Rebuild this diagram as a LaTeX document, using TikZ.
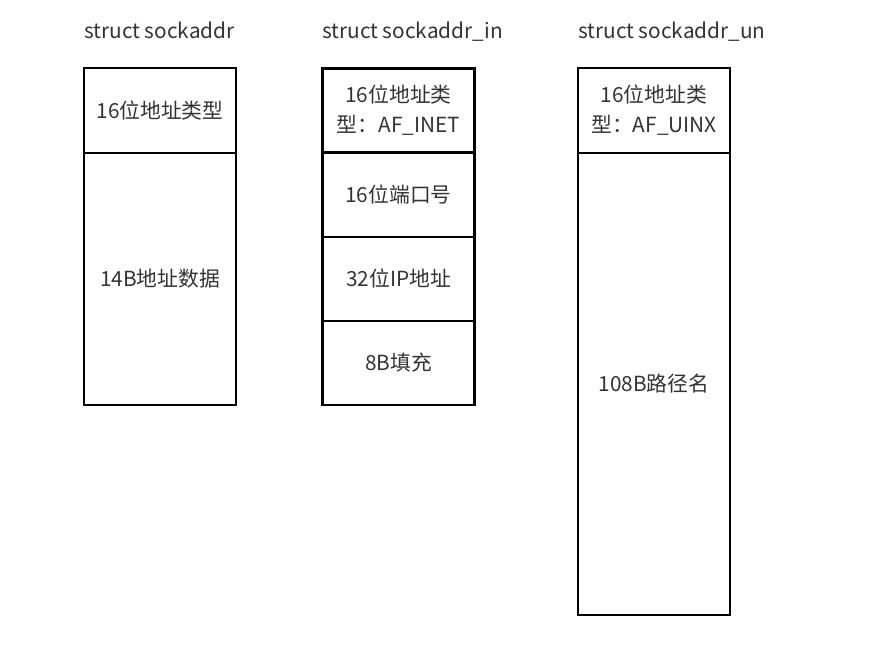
\documentclass[tikz,border=0pt]{standalone}
\usepackage{fontspec}
\setmainfont{Noto Sans CJK SC}
\definecolor{txtgray}{HTML}{333333}

\begin{document}
\begin{tikzpicture}
        [%%%%%%%%%%%%%%%%%%%%%%%%%%%%%%
        x=1pt,y=-1pt,
        cell/.style={rectangle,draw=black,line width=2.6pt,minimum width=152pt,inner sep=0pt,outer sep=0pt,
                     text=txtgray,font=\fontsize{20.8}{30}\selectfont,align=center},
        title/.style={anchor=base west,inner sep=0pt,text=txtgray,font=\fontsize{20.8}{24}\selectfont},
        ]%%%%%%%%%%%%%%%%%%%%%%%%%%%%%%

        \useasboundingbox (0,0) rectangle (871,655);

        % titles
        \node[title] (tsock) at (84,39) {struct sockaddr};
        \node[title] (tsockin) at (322,39) {struct sockaddr\_in};
        \node[title] (tsockun) at (578,39) {struct sockaddr\_un};

        % sockaddr
        \node[cell,minimum height=85pt] (satype) at (160,110.5) {16位地址类型};
        \node[cell,minimum height=252pt] (sadata) at (160,279) {14B地址数据};

        % sockaddr_in
        \foreach \y/\name/\txt in {110.5/intype/{16位地址类\\型：AF\_INET},
                                   195/inport/16位端口号,
                                   279/inaddr/32位IP地址,
                                   363/inpad/8B填充}
          \node[cell,minimum height=84pt] (\name) at (398.5,\y) {\txt};

        % sockaddr_un
        \node[cell,minimum height=85pt] (untype) at (654,110.5) {16位地址类\\型：AF\_UINX};
        \node[cell,minimum height=462pt] (unpath) at (654,384) {108B路径名};
      \end{tikzpicture}
\end{document}
